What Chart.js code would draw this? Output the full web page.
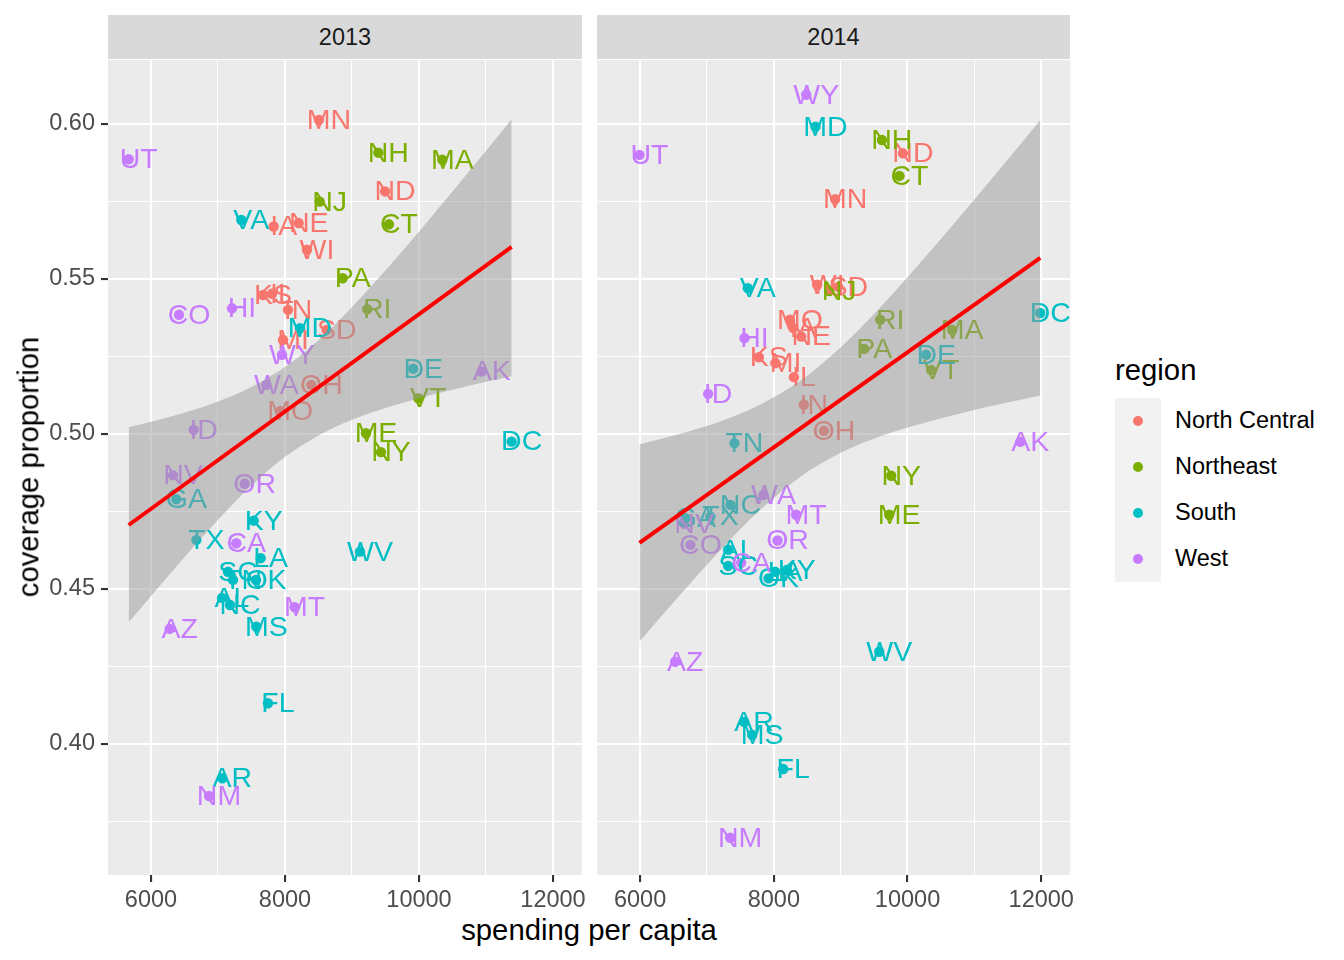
<!DOCTYPE html>
<html>
<head>
<meta charset="utf-8">
<script src="https://cdn.jsdelivr.net/npm/chart.js@4.4.0/dist/chart.umd.min.js"></script>
<style>
  body { margin: 0; background: #fff; width: 1344px; height: 960px; position: relative; overflow: hidden;
         font-family: "Liberation Sans", Arial, Helvetica, sans-serif; }
  canvas { position: absolute; }
  .strip { position: absolute; top: 15px; height: 44px; line-height: 45px; background: #d9d9d9;
           color: #1a1a1a; font-size: 23.5px; text-align: center; }
  .title { position: absolute; color: #000; font-size: 29.3px; white-space: nowrap; line-height: 1; }
  .key { position: absolute; left: 1115px; width: 46px; height: 46px; background: #f2f2f2; }
  .key span { position: absolute; left: 17.8px; top: 17.8px; width: 10.4px; height: 10.4px; border-radius: 50%; }
  .keytext { position: absolute; left: 1175px; font-size: 23.5px; color: #000; line-height: 1; white-space: nowrap; }
</style>
</head>
<body>
<div class="strip" style="left:108px;width:474px">2013</div>
<div class="strip" style="left:597px;width:473px">2014</div>
<canvas id="p2013" width="592" height="880" style="left:0;top:30px;width:592px;height:880px"></canvas>
<canvas id="p2014" width="483" height="880" style="left:597px;top:30px;width:483px;height:880px"></canvas>
<div class="title" style="left:589px;top:915px;transform:translateX(-50%)">spending per capita</div>
<div class="title" style="left:28px;top:467px;transform:translate(-50%,-50%) rotate(-90deg)">coverage proportion</div>
<div class="title" style="left:1115px;top:355px">region</div>
<div id="legend"></div>
<script>
const states = ['AL','AK','AZ','AR','CA','CO','CT','DE','DC','FL','GA','HI','ID','IL','IN','IA','KS','KY','LA','ME',
  'MD','MA','MI','MN','MS','MO','MT','NE','NV','NH','NJ','NM','NY','NC','ND','OH','OK','OR','PA','RI',
  'SC','SD','TN','TX','UT','VT','VA','WA','WV','WI','WY'];
const stateRegion = ['South','West','West','South','West','West','Northeast','South','South','South','South','West','West',
  'North Central','North Central','North Central','North Central','South','South','Northeast',
  'South','Northeast','North Central','North Central','South','North Central','West','North Central','West','Northeast',
  'Northeast','West','Northeast','South','North Central','North Central','South','West','Northeast','Northeast',
  'South','North Central','South','South','West','Northeast','South','West','South','North Central','West'];

const spending2013 = [7060,10935,6279,7064,7273,6418,9552,9915,11383,7746,6378,7209,6637,7806,8045,7831,7672,7533,7637,9209,
  8224,10348,7970,8507,7572,7930,8144,8204,6328,9393,8518,6866,9433,7179,9493,8393,7567,7398,8861,9228,
  7149,8622,7224,6677,5667,9990,7348,7721,9119,8328,7955];
const coverage2013 = [0.4471,0.5201,0.4371,0.3889,0.4647,0.5384,0.5676,0.5210,0.4975,0.4131,0.4789,0.5405,0.5013,0.5452,0.5400,0.5669,0.5448,0.4720,0.4599,0.5002,
  0.5341,0.5884,0.5303,0.6013,0.4378,0.5074,0.4441,0.5680,0.4866,0.5907,0.5749,0.3832,0.4941,0.4448,0.5782,0.5158,0.4529,0.4839,0.5502,0.5402,
  0.4555,0.5335,0.4529,0.4658,0.5886,0.5115,0.5690,0.5158,0.4620,0.5594,0.5255];
const spending2014 = [7317,11686,6524,7556,7511,6753,9880,10279,11985,8140,6678,7561,7017,8300,8449,8289,7776,8195,8020,9726,
  8623,10668,8025,8918,7676,8240,8334,8409,6658,9616,8828,7347,9756,7351,9931,8749,7920,8055,9352,9591,
  7317,8963,7411,7052,5990,10354,7611,7845,9576,8648,8484];
const coverage2014 = [0.4626,0.4974,0.4265,0.4071,0.4584,0.4642,0.5832,0.5255,0.5390,0.3919,0.4728,0.5309,0.5129,0.5183,0.5094,0.5342,0.5247,0.4561,0.4555,0.4739,
  0.5991,0.5335,0.5228,0.5757,0.4029,0.5368,0.4739,0.5314,0.4710,0.5948,0.5461,0.3697,0.4865,0.4771,0.5905,0.5010,0.4534,0.4656,0.5274,0.5368,
  0.4574,0.5474,0.4970,0.4733,0.5900,0.5206,0.5470,0.4803,0.4297,0.5481,0.6094];

// linear fit and its 95% band
const fitX2013 = [5667, 11383];
const fitY2013 = [0.4706, 0.5603];
const bandX2013 = [5667, 6284, 6881, 7478, 8060, 8672, 9269, 10015, 10761, 11383];
const bandUpper2013 = [0.5021, 0.5055, 0.5095, 0.5149, 0.5225, 0.5337, 0.5472, 0.5656, 0.5850, 0.6015];
const bandLower2013 = [0.4392, 0.4549, 0.4695, 0.4829, 0.4935, 0.5014, 0.5067, 0.5116, 0.5156, 0.5186];
const fitX2014 = [5990, 11985];
const fitY2014 = [0.4648, 0.5568];
const bandX2014 = [5990, 6599, 7197, 7796, 8394, 8993, 9591, 10190, 10788, 11387, 11985];
const bandUpper2014 = [0.4966, 0.5000, 0.5040, 0.5094, 0.5171, 0.5278, 0.5408, 0.5552, 0.5702, 0.5856, 0.6012];
const bandLower2014 = [0.4330, 0.4481, 0.4624, 0.4755, 0.4861, 0.4938, 0.4992, 0.5032, 0.5066, 0.5096, 0.5124];

const regions = ['North Central', 'Northeast', 'South', 'West'];
const xTicks = [6000, 8000, 10000, 12000];
const xTickLabels = ['6000', '8000', '10000', '12000'];
const xMinorTicks = [7000, 9000, 11000];
const yTicks = [0.40, 0.45, 0.50, 0.55, 0.60];
const yTickLabels = ['0.40', '0.45', '0.50', '0.55', '0.60'];
const yMinorTicks = [0.375, 0.425, 0.475, 0.525, 0.575];
const xLimits = [5358, 12433];
const yLimits = [0.3577, 0.6206];

const regionColors = ['#F8766D', '#7CAE00', '#00BFC4', '#C77CFF'];
const FONT = '"Liberation Sans", Arial, Helvetica, sans-serif';

function findTick(list, v) {
  return list.findIndex(t => Math.abs(t - v) < 1e-9);
}

const panelBg = {
  id: 'panelBg',
  beforeDraw(chart) {
    const { ctx, chartArea: a } = chart;
    ctx.save();
    ctx.fillStyle = '#ebebeb';
    ctx.fillRect(a.left, a.top, a.right - a.left, a.bottom - a.top);
    ctx.restore();
  }
};

// state abbreviations, drawn over all the points and under the band
const stateText = {
  id: 'stateText',
  beforeDatasetsDraw(chart) { chart.$ptsDone = 0; },
  afterDatasetDraw(chart, args) {
    const ds = chart.data.datasets[args.index];
    if (!ds.stateNames) return;
    chart.$ptsDone++;
    if (chart.$ptsDone < regions.length) return;
    const ctx = chart.ctx;
    ctx.save();
    ctx.font = '28.5px ' + FONT;
    ctx.textAlign = 'center';
    ctx.textBaseline = 'middle';
    chart.data.datasets.forEach((d, i) => {
      if (!d.stateNames) return;
      const meta = chart.getDatasetMeta(i);
      ctx.fillStyle = d.backgroundColor;
      meta.data.forEach((pt, j) => ctx.fillText(d.stateNames[j], pt.x + 10, pt.y + 1));
    });
    ctx.restore();
  }
};

function makePanel(id, spending, coverage, bandX, upper, lower, fitX, fitY, showY) {
  const datasets = regions.map((r, k) => {
    const idx = states.map((s, i) => i).filter(i => stateRegion[i] === r);
    return {
      type: 'scatter',
      data: idx.map(i => ({ x: spending[i], y: coverage[i] })),
      stateNames: idx.map(i => states[i]),
      backgroundColor: regionColors[k],
      pointRadius: 5.2,
      pointBorderWidth: 0,
      pointHoverRadius: 5.2,
      order: 3
    };
  });
  datasets.push({
    type: 'line',
    data: bandX.map((x, i) => ({ x: x, y: upper[i] })),
    borderWidth: 0,
    pointRadius: 0,
    cubicInterpolationMode: 'monotone',
    fill: '+1',
    backgroundColor: 'rgba(153,153,153,0.5)',
    order: 2
  });
  datasets.push({
    type: 'line',
    data: bandX.map((x, i) => ({ x: x, y: lower[i] })),
    borderWidth: 0,
    pointRadius: 0,
    cubicInterpolationMode: 'monotone',
    fill: false,
    order: 2
  });
  datasets.push({
    type: 'line',
    data: fitX.map((x, i) => ({ x: x, y: fitY[i] })),
    borderColor: '#ff0000',
    borderWidth: 4,
    pointRadius: 0,
    fill: false,
    order: 1
  });

  return new Chart(document.getElementById(id), {
    type: 'scatter',
    data: { datasets },
    plugins: [panelBg, stateText],
    options: {
      responsive: false,
      maintainAspectRatio: false,
      animation: false,
      events: [],
      layout: { padding: { top: 30, right: 10, left: 0, bottom: 0 } },
      plugins: { legend: { display: false }, tooltip: { enabled: false } },
      scales: {
        x: {
          type: 'linear', min: xLimits[0], max: xLimits[1],
          afterBuildTicks: s => { s.ticks = xTicks.concat(xMinorTicks).sort((a, b) => a - b).map(v => ({ value: v })); },
          afterFit: s => { s.height = 35; },
          ticks: {
            autoSkip: false, maxRotation: 0, padding: 4, color: '#4d4d4d',
            font: { family: FONT, size: 23.5 },
            callback: v => { const i = findTick(xTicks, v); return i < 0 ? '' : xTickLabels[i]; }
          },
          grid: {
            color: '#ffffff',
            lineWidth: c => findTick(xTicks, c.tick.value) < 0 ? 1.05 : 2.1,
            tickLength: 7,
            tickWidth: 2.1,
            tickColor: c => findTick(xTicks, c.tick.value) < 0 ? 'rgba(0,0,0,0)' : '#333333'
          },
          border: { display: false }
        },
        y: {
          type: 'linear', min: yLimits[0], max: yLimits[1],
          afterBuildTicks: s => { s.ticks = yTicks.concat(yMinorTicks).sort((a, b) => a - b).map(v => ({ value: v })); },
          afterFit: s => { s.width = showY ? 108 : 0; },
          ticks: {
            display: showY, autoSkip: false, padding: 6, color: '#4d4d4d',
            font: { family: FONT, size: 23.5 },
            callback: v => { const i = findTick(yTicks, v); return i < 0 ? '' : yTickLabels[i]; }
          },
          grid: {
            color: '#ffffff',
            lineWidth: c => findTick(yTicks, c.tick.value) < 0 ? 1.05 : 2.1,
            drawTicks: showY,
            tickLength: 7,
            tickWidth: 2.1,
            tickColor: c => findTick(yTicks, c.tick.value) < 0 ? 'rgba(0,0,0,0)' : '#333333'
          },
          border: { display: false }
        }
      }
    }
  });
}

// size and move a canvas so that its plot area lands on the given page box
function placePanel(chart, left, top, width, height) {
  let a = chart.chartArea;
  chart.resize(chart.width + width - (a.right - a.left), chart.height + height - (a.bottom - a.top));
  a = chart.chartArea;
  chart.canvas.style.left = (left - a.left) + 'px';
  chart.canvas.style.top = (top - a.top) + 'px';
}

const c2013 = makePanel('p2013', spending2013, coverage2013, bandX2013, bandUpper2013, bandLower2013, fitX2013, fitY2013, true);
const c2014 = makePanel('p2014', spending2014, coverage2014, bandX2014, bandUpper2014, bandLower2014, fitX2014, fitY2014, false);
placePanel(c2013, 108, 60, 474, 815);
placePanel(c2014, 597, 60, 473, 815);

// legend
const legend = document.getElementById('legend');
regions.forEach((r, k) => {
  const top = 398 + k * 46;
  const key = document.createElement('div');
  key.className = 'key';
  key.style.top = top + 'px';
  const dot = document.createElement('span');
  dot.style.background = regionColors[k];
  key.appendChild(dot);
  legend.appendChild(key);
  const txt = document.createElement('div');
  txt.className = 'keytext';
  txt.style.top = (top + 23 - 12) + 'px';
  txt.textContent = r;
  legend.appendChild(txt);
});
</script>
</body>
</html>
